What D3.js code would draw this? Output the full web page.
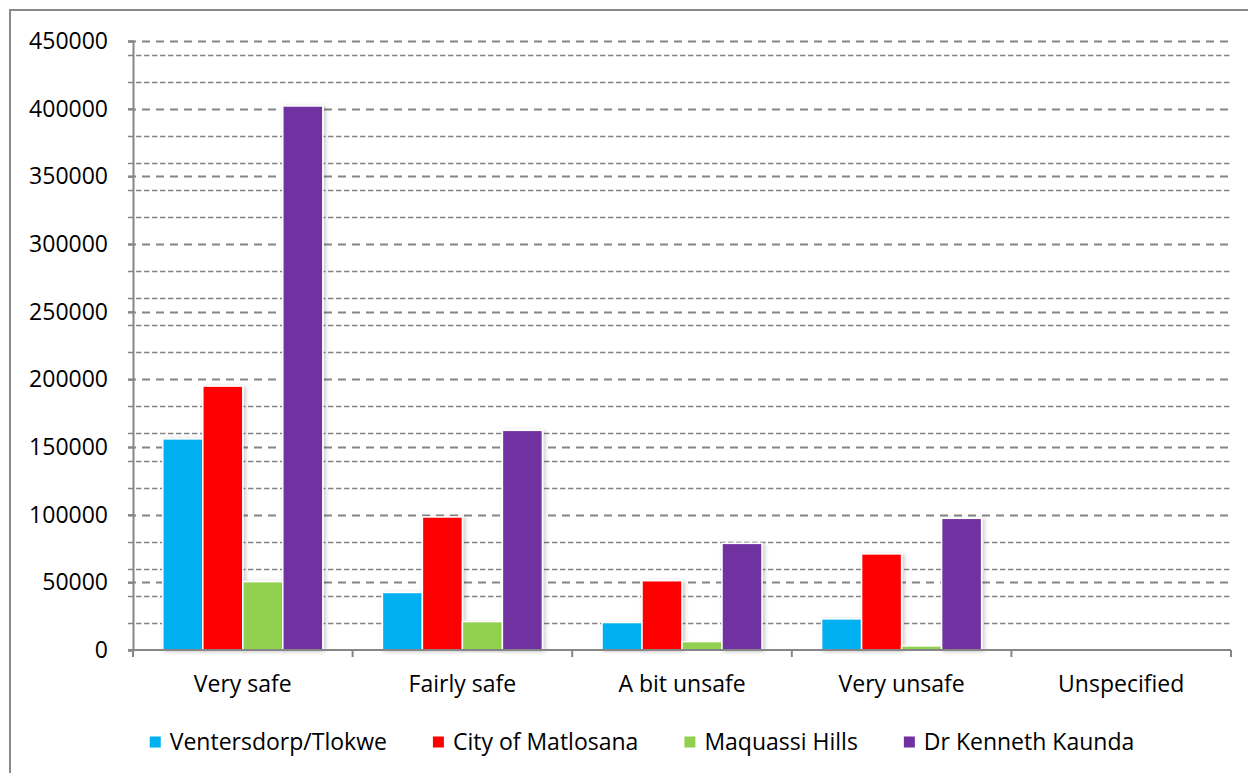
<!DOCTYPE html>
<html>
<head>
<meta charset="utf-8">
<script src="https://cdn.jsdelivr.net/npm/d3@7"></script>
<style>
  html, body { margin: 0; padding: 0; background: #fff; }
  svg { display: block; }
  text { font-family: "Open Sans", "DejaVu Sans", sans-serif; fill: #000; }
</style>
</head>
<body>
<svg id="chart" width="1248" height="773"></svg>
<script>
// Perceived safety categories
const categories = ["Very safe", "Fairly safe", "A bit unsafe", "Very unsafe", "Unspecified"];

// Municipalities (series)
const seriesNames = ["Ventersdorp/Tlokwe", "City of Matlosana", "Maquassi Hills", "Dr Kenneth Kaunda"];
const seriesColors = ["#00B0F0", "#FF0000", "#92D050", "#7030A0"];

// Number of people per category, one array per municipality
const ventersdorpTlokwe = [156000, 42500, 20300, 23000, 300];
const cityOfMatlosana   = [195000, 98300, 51200, 71000, 300];
const maquassiHills     = [50500, 21000, 6200, 3000, 100];
const drKennethKaunda   = [402000, 162300, 78800, 97300, 400];

const seriesValues = [ventersdorpTlokwe, cityOfMatlosana, maquassiHills, drKennethKaunda];

// Axis ticks
const majorTicks = [0, 50000, 100000, 150000, 200000, 250000, 300000, 350000, 400000, 450000];
const minorTicks = d3.range(20000, 450000, 20000);

const svg = d3.select("#chart");
const W = 1248, H = 773;
const plot = { left: 133, right: 1231, top: 41, bottom: 650 };
const fontSize = "23px";

// Outer chart frame
svg.append("rect")
  .attr("x", 10).attr("y", 10)
  .attr("width", W).attr("height", H)
  .attr("fill", "#fff")
  .attr("stroke", "#8a8a8a").attr("stroke-width", 2);

const defs = svg.append("defs");
const shadow = defs.append("filter").attr("id", "barShadow")
  .attr("x", "-20%").attr("y", "-5%").attr("width", "150%").attr("height", "115%");
shadow.append("feDropShadow")
  .attr("dx", 2).attr("dy", 1).attr("stdDeviation", 2)
  .attr("flood-color", "#000").attr("flood-opacity", 0.22);

const y = d3.scaleLinear().domain([0, 450000]).range([plot.bottom, plot.top]);
const x0 = d3.scaleBand().domain(categories).range([plot.left, plot.right]).paddingInner(0).paddingOuter(0);
const x1 = d3.scaleBand().domain(seriesNames).range([0, x0.bandwidth()]).paddingInner(0).paddingOuter(0.745);

// Minor gridlines (every 20 000) with short dashes
const minorOnly = minorTicks.filter(v => v % 50000 !== 0);
svg.append("g").selectAll("line").data(minorOnly).join("line")
  .attr("x1", plot.left - 5).attr("x2", plot.right)
  .attr("y1", d => Math.round(y(d)) + 0.5).attr("y2", d => Math.round(y(d)) + 0.5)
  .attr("stroke", "#858585").attr("stroke-width", 1.7)
  .attr("stroke-dasharray", "5.5,2.5");

// Major gridlines (every 50 000) with long dashes
svg.append("g").selectAll("line").data(majorTicks.filter(v => v > 0)).join("line")
  .attr("x1", plot.left - 5).attr("x2", plot.right)
  .attr("y1", d => Math.round(y(d)) + 0.5).attr("y2", d => Math.round(y(d)) + 0.5)
  .attr("stroke", "#858585").attr("stroke-width", 1.8)
  .attr("stroke-dasharray", "8,6");

// Bars
const groups = svg.append("g").selectAll("g").data(categories).join("g")
  .attr("transform", d => `translate(${x0(d)},0)`);

groups.selectAll("rect")
  .data((c, ci) => seriesNames.map((s, si) => ({ s, si, v: seriesValues[si][ci] })))
  .join("rect")
  .attr("x", d => x1(d.s))
  .attr("width", x1.bandwidth())
  .attr("y", d => y(d.v))
  .attr("height", d => y(0) - y(d.v))
  .attr("fill", d => seriesColors[d.si])
  .attr("stroke", "#fff").attr("stroke-width", 1.5)
  .attr("filter", "url(#barShadow)");

// Y axis
const yAxis = d3.axisLeft(y).tickValues(majorTicks).tickSize(5).tickPadding(20).tickFormat(d3.format("d"));
const gy = svg.append("g").attr("transform", `translate(${plot.left},0)`).call(yAxis);
gy.select(".domain").attr("stroke", "#868686").attr("stroke-width", 2);
gy.selectAll(".tick line").attr("stroke", "#868686").attr("stroke-width", 2);
gy.selectAll(".tick text").style("font-size", fontSize).attr("fill", "#000");

// X axis: ticks at the category boundaries
const gx = svg.append("g").attr("transform", `translate(0,${plot.bottom})`);
gx.append("line").attr("x1", plot.left - 5).attr("x2", plot.right)
  .attr("y1", 0).attr("y2", 0).attr("stroke", "#868686").attr("stroke-width", 2.2);
const boundaries = categories.map(c => x0(c)).concat([plot.right]);
gx.selectAll("line.b").data(boundaries).join("line").attr("class", "b")
  .attr("x1", d => d).attr("x2", d => d).attr("y1", 0).attr("y2", 7)
  .attr("stroke", "#868686").attr("stroke-width", 2);
gx.selectAll("text").data(categories).join("text")
  .attr("x", d => x0(d) + x0.bandwidth() / 2)
  .attr("y", 42)
  .attr("text-anchor", "middle")
  .style("font-size", fontSize)
  .text(d => d);

// Legend
const legend = svg.append("g").attr("transform", "translate(0,742)");
const items = legend.selectAll("g").data(seriesNames).join("g");
items.append("rect").attr("width", 11).attr("height", 11).attr("y", -5.5)
  .attr("fill", (d, i) => seriesColors[i]);
items.append("text").attr("x", 20).attr("y", 8).style("font-size", fontSize).text(d => d);

let widths = [];
items.each(function () { widths.push(this.querySelector("text").getComputedTextLength() + 20); });
const gap = 46;
const total = d3.sum(widths) + gap * (widths.length - 1);
let cx = 642 - total / 2;
items.attr("transform", (d, i) => {
  const t = `translate(${cx},0)`;
  cx += widths[i] + gap;
  return t;
});
</script>
</body>
</html>
